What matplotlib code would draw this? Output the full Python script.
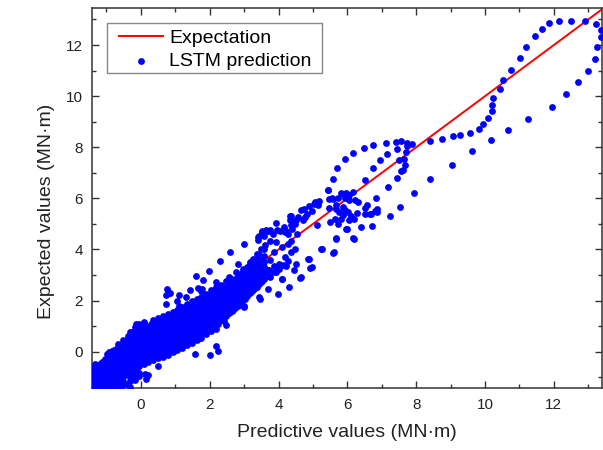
import numpy as np
import matplotlib.pyplot as plt
from matplotlib.patches import Rectangle

plt.rcParams['font.family'] = ['Liberation Sans', 'DejaVu Sans']

# y = x reference line
expect_line = [-1.5, 13.5]

# sparse points, upper range (arcs and loops)
pred_high = [13.24, 13.38, 13.38, 13.26, 13.19, 12.98, 12.70, 12.35, 11.94, 11.24, 10.66,
             12.91, 12.49, 12.15, 11.85, 11.66, 11.46, 11.19, 11.02, 10.77, 10.52, 10.44,
             10.24, 10.21, 10.19, 10.08, 9.94, 9.82, 9.56, 9.26, 9.07, 8.76, 8.39,
             10.17, 9.63, 9.05, 8.41, 7.93]
exp_high = [12.82, 12.60, 12.33, 11.93, 11.44, 10.99, 10.55, 10.07, 9.58, 9.11, 8.69,
            12.94, 12.95, 12.94, 12.85, 12.64, 12.35, 11.93, 11.48, 11.02, 10.63, 10.29,
            9.93, 9.67, 9.40, 9.13, 8.93, 8.72, 8.56, 8.48, 8.43, 8.34, 8.26,
            8.29, 7.87, 7.32, 6.75, 6.20]

# loop around 6..8
pred_loop = [7.89, 7.73, 7.73, 7.57, 7.40, 7.11, 6.76, 6.47, 6.15, 5.93, 5.71, 5.57, 5.45,
             7.45, 7.71, 7.64, 7.68, 7.56, 7.45, 7.15, 6.96, 6.76, 6.51, 7.18, 6.82,
             7.23, 6.71, 6.17, 5.68, 7.52, 6.69, 6.85, 7.63, 7.49]
exp_loop = [8.12, 8.17, 8.04, 8.25, 8.22, 8.17, 8.07, 7.97, 7.78, 7.53, 7.19, 6.76, 6.31,
            7.92, 7.80, 7.56, 7.31, 7.09, 6.78, 7.74, 7.49, 7.18, 6.73, 6.43, 6.01,
            5.33, 4.90, 4.46, 4.44, 5.66, 5.40, 5.46, 7.10, 7.49]

# cluster near 6
pred_mid = [5.46, 5.59, 5.72, 5.81, 5.88, 5.95, 6.04, 6.16, 6.22, 5.93, 6.05, 5.68, 5.68,
            5.75, 5.87, 5.92, 6.02, 5.87, 6.11, 6.19, 6.04, 5.83, 5.65, 6.28, 6.30, 6.57,
            6.50, 6.52, 6.67, 6.81, 6.86, 5.46, 5.51, 5.98, 5.74, 5.13, 5.55, 6.40, 5.60,
            5.17, 5.06, 4.90, 4.73, 4.65, 4.97, 4.83, 4.76, 4.56, 4.37, 4.32, 4.52, 4.71,
            4.37, 4.15, 3.94, 3.97, 4.18, 4.38, 4.55, 3.76, 3.65, 3.53, 3.40, 5.14, 5.04,
            5.43, 5.06]
exp_mid = [5.96, 5.99, 6.01, 6.21, 6.17, 6.21, 6.13, 6.26, 5.92, 6.01, 5.92, 5.73, 5.60,
           5.46, 5.66, 5.56, 5.46, 5.36, 5.33, 5.19, 5.14, 5.18, 5.18, 5.42, 5.87, 5.75,
           5.63, 5.40, 5.40, 5.52, 5.60, 5.63, 5.07, 4.81, 5.01, 4.94, 6.00, 4.87, 3.89,
           5.88, 5.82, 5.71, 5.60, 5.53, 5.50, 5.37, 5.27, 5.27, 5.32, 5.16, 5.14, 5.14,
           4.97, 4.87, 5.05, 4.75, 4.68, 4.81, 4.62, 4.75, 4.77, 4.67, 4.48, 5.73, 5.79,
           6.31, 5.86]

# ring around 4 and scattered outliers
pred_ring = [4.33, 4.38, 4.48, 3.66, 3.53, 3.42, 3.39, 3.57, 3.72, 3.84, 4.03, 4.21, 4.29,
             4.37, 4.27, 4.11, 3.94, 3.74, 3.62, 3.50, 3.37, 3.26, 3.16, 2.99, 2.60, 2.31,
             1.98, 1.61, 1.42, 1.12, 0.86, 1.78, 2.17, 2.56, 2.77, 2.97, 3.13, 2.82, 3.74,
             3.86, 4.18, 4.37, 4.47, 4.50, 4.23, 4.10, 3.70, 3.50, 3.31, 3.08, 2.97, 3.00,
             3.43, 3.74, 3.94, 3.69, 3.35, 3.14, 4.30, 4.63, 4.44, 4.91, 4.89, 5.24, 5.58,
             5.68, 6.18, 5.97, 4.64, 4.87, 4.97, 5.25]
exp_ring = [5.32, 5.09, 5.01, 4.74, 4.72, 4.51, 4.38, 4.51, 4.72, 4.62, 4.72, 4.74, 4.62,
            4.35, 4.22, 4.09, 4.29, 4.35, 4.16, 4.03, 3.83, 3.64, 3.50, 4.22, 3.89, 3.54,
            3.15, 2.98, 2.42, 2.20, 2.30, 2.46, 2.72, 2.91, 3.11, 3.24, 3.31, 3.44, 3.57,
            3.89, 3.70, 3.89, 4.03, 3.44, 3.37, 2.84, 2.47, 2.72, 2.52, 2.46, 2.20, 1.74,
            2.13, 2.91, 3.11, 3.18, 3.18, 2.78, 2.52, 2.89, 3.20, 3.28, 3.62, 4.01, 3.87,
            4.42, 4.42, 4.81, 2.91, 3.64, 3.31, 4.03]

pred_out = [1.56, 2.00, 2.25, 2.17, 0.76, 0.82, 0.72, 0.72, 1.05, 1.12, 1.32, 1.66, 1.81,
            1.61, 1.51, 1.32, 1.90, 2.43, 2.48, 2.56, 2.66, 3.01, 3.06, 3.47, 3.06, 3.43,
            3.99, 4.11, -0.14, 0.08, -0.25, -0.62, -0.33, -0.18, -0.04, 0.11, 0.16]
exp_out = [-0.09, -0.12, 0.04, 0.24, 2.46, 2.29, 2.20, 1.87, 2.00, 1.80, 2.13, 2.48, 2.82,
           0.59, 0.72, 0.56, 1.08, 1.22, 1.05, 1.53, 1.61, 1.80, 2.33, 2.07, 3.20, 3.11,
           2.26, 2.84, 1.09, 1.15, 0.76, -1.33, -1.14, -1.00, -0.94, -0.88, -1.07]

# dense band, listed column by column
band_x = [-1.38, -1.25, -1.12, -0.98, -0.85, -0.72, -0.58, -0.45, -0.32, -0.18, -0.05,
          0.08, 0.22, 0.36, 0.50, 0.64, 0.78, 0.92, 1.06, 1.20, 1.34, 1.48, 1.62, 1.76,
          1.90, 2.04, 2.18, 2.32, 2.46, 2.60, 2.74, 2.88, 3.02, 3.16, 3.30, 3.44, 3.58,
          3.72, 3.86, 4.00, 4.14, 4.28]
band_y = [
    [-1.40, -1.22, -1.03, -0.85, -0.62],
    [-1.38, -1.18, -0.98, -0.78, -0.55],
    [-1.40, -1.20, -1.00, -0.80, -0.60, -0.40],
    [-1.36, -1.15, -0.95, -0.74, -0.52, -0.30, -0.10],
    [-1.40, -1.20, -0.99, -0.78, -0.58, -0.36, -0.15, 0.02],
    [-1.32, -1.10, -0.90, -0.70, -0.48, -0.28, -0.05, 0.12],
    [-1.40, -1.05, -0.85, -0.62, -0.42, -0.20, 0.00, 0.22],
    [-1.25, -0.92, -0.70, -0.50, -0.30, -0.08, 0.14, 0.35],
    [-1.40, -1.00, -0.78, -0.56, -0.36, -0.15, 0.05, 0.27, 0.50, 0.78],
    [-1.10, -0.70, -0.48, -0.26, -0.05, 0.18, 0.40, 0.62, 0.95],
    [-0.85, -0.55, -0.34, -0.12, 0.10, 0.32, 0.55, 0.75, 1.08],
    [-0.48, -0.25, -0.02, 0.20, 0.42, 0.64, 0.85, 1.12],
    [-0.90, -0.40, -0.15, 0.08, 0.30, 0.52, 0.74, 0.96],
    [-0.32, -0.08, 0.15, 0.38, 0.60, 0.82, 1.05, 1.25],
    [-0.55, -0.25, 0.00, 0.25, 0.48, 0.70, 0.92, 1.15, 1.32],
    [-0.20, 0.05, 0.28, 0.50, 0.72, 0.95, 1.18, 1.40],
    [-0.12, 0.12, 0.36, 0.58, 0.80, 1.02, 1.25, 1.48],
    [0.00, 0.22, 0.45, 0.68, 0.90, 1.12, 1.35, 1.55],
    [0.05, 0.30, 0.52, 0.75, 0.98, 1.20, 1.42, 1.62],
    [0.15, 0.40, 0.62, 0.85, 1.08, 1.30, 1.52, 1.75],
    [0.28, 0.50, 0.72, 0.95, 1.18, 1.40, 1.62, 1.88],
    [0.35, 0.60, 0.82, 1.05, 1.28, 1.50, 1.72, 1.98],
    [0.45, 0.70, 0.92, 1.15, 1.38, 1.60, 1.82, 2.05],
    [0.55, 0.80, 1.02, 1.25, 1.48, 1.70, 1.92, 2.15, 2.38],
    [0.70, 0.92, 1.15, 1.38, 1.60, 1.82, 2.05, 2.25],
    [0.82, 1.05, 1.28, 1.50, 1.72, 1.95, 2.18, 2.40],
    [0.88, 1.15, 1.40, 1.62, 1.85, 2.08, 2.30, 2.55],
    [1.25, 1.50, 1.72, 1.95, 2.18, 2.40, 2.62],
    [1.40, 1.62, 1.85, 2.08, 2.30, 2.52, 2.75],
    [1.55, 1.78, 2.00, 2.22, 2.45, 2.68, 2.90],
    [1.72, 1.95, 2.18, 2.40, 2.62, 2.85],
    [1.85, 2.10, 2.32, 2.55, 2.78, 3.00],
    [2.05, 2.28, 2.50, 2.72, 2.95, 3.18],
    [2.30, 2.52, 2.75, 2.98, 3.20, 3.42],
    [2.45, 2.70, 2.92, 3.15, 3.38, 3.60],
    [2.65, 2.88, 3.10, 3.32, 3.55, 3.78],
    [2.85, 3.08, 3.30, 3.52, 3.75, 4.00],
    [2.95, 3.20],
    [3.10, 3.35],
    [3.25, 3.45],
    [3.40],
    [3.55],
]

# second set of band columns, in between the first ones
band2_x = [-1.32, -1.18, -1.05, -0.92, -0.78, -0.65, -0.52, -0.38, -0.25, -0.12, 0.02,
           0.15, 0.29, 0.43, 0.57, 0.71, 0.85, 0.99, 1.13, 1.27, 1.41, 1.55, 1.69, 1.83,
           1.97, 2.11, 2.25, 2.39, 2.53, 2.67, 2.81, 2.95, 3.09, 3.23, 3.37, 3.51]
band2_y = [
    [-1.30, -1.12, -0.93, -0.72, -0.50],
    [-1.28, -1.08, -0.88, -0.68, -0.48],
    [-1.30, -1.10, -0.90, -0.70, -0.50, -0.28],
    [-1.26, -1.05, -0.85, -0.63, -0.42, -0.20, 0.00],
    [-1.22, -1.00, -0.80, -0.60, -0.38, -0.18, 0.05],
    [-1.20, -0.96, -0.76, -0.55, -0.34, -0.12, 0.10, 0.30],
    [-1.15, -0.80, -0.60, -0.40, -0.18, 0.04, 0.26, 0.45],
    [-0.88, -0.66, -0.45, -0.25, -0.02, 0.20, 0.42, 0.62],
    [-0.85, -0.60, -0.38, -0.16, 0.06, 0.28, 0.50, 0.72],
    [-0.62, -0.40, -0.18, 0.04, 0.26, 0.48, 0.70, 0.88],
    [-0.45, -0.22, 0.00, 0.22, 0.44, 0.66, 0.88, 1.00],
    [-0.36, -0.12, 0.10, 0.32, 0.54, 0.76, 0.98],
    [-0.25, -0.02, 0.20, 0.42, 0.64, 0.86, 1.10],
    [-0.18, 0.05, 0.28, 0.50, 0.72, 0.95, 1.18],
    [-0.10, 0.14, 0.36, 0.58, 0.80, 1.02, 1.25],
    [-0.05, 0.22, 0.45, 0.68, 0.90, 1.12, 1.35],
    [0.05, 0.30, 0.52, 0.75, 0.98, 1.20, 1.42],
    [0.12, 0.38, 0.60, 0.82, 1.05, 1.28, 1.50],
    [0.22, 0.46, 0.70, 0.92, 1.15, 1.38, 1.60],
    [0.30, 0.55, 0.78, 1.00, 1.22, 1.45, 1.68],
    [0.42, 0.66, 0.88, 1.10, 1.32, 1.55, 1.78],
    [0.50, 0.75, 0.98, 1.20, 1.42, 1.65, 1.88],
    [0.62, 0.86, 1.08, 1.30, 1.52, 1.75, 1.98],
    [0.75, 0.98, 1.20, 1.42, 1.65, 1.88, 2.10],
    [0.85, 1.08, 1.32, 1.55, 1.78, 2.00, 2.22],
    [0.98, 1.20, 1.42, 1.65, 1.88, 2.10, 2.32],
    [1.10, 1.32, 1.55, 1.78, 2.00, 2.22, 2.45],
    [1.38, 1.60, 1.82, 2.05, 2.28, 2.50],
    [1.50, 1.72, 1.95, 2.18, 2.40, 2.62],
    [1.65, 1.88, 2.10, 2.32, 2.55, 2.78],
    [1.80, 2.02, 2.25, 2.48, 2.70, 2.92],
    [1.98, 2.20, 2.42, 2.65, 2.88, 3.08],
    [2.18, 2.40, 2.62, 2.85, 3.08, 3.30],
    [2.38, 2.60, 2.82, 3.05, 3.28, 3.50],
    [2.55, 2.78, 3.00, 3.22, 3.45, 3.68],
    [2.75, 2.98, 3.20, 3.42, 3.65],
]

pred_band, exp_band = [], []
for bx, ys in list(zip(band_x, band_y)) + list(zip(band2_x, band2_y)):
    pred_band += [bx] * len(ys)
    exp_band += ys

pred = np.array(pred_band + pred_out + pred_ring + pred_mid + pred_loop + pred_high)
expd = np.array(exp_band + exp_out + exp_ring + exp_mid + exp_loop + exp_high)

fig = plt.figure(figsize=(6.03, 4.5), dpi=100)
ax = fig.add_axes([92 / 603, 62 / 450, 510 / 603, 380 / 450])

ax.plot(expect_line, expect_line, color='red', lw=1.4, label='Expectation', zorder=2)
ax.scatter(pred, expd, s=24, color='#0000ff', linewidths=0, label='LSTM prediction', zorder=3)

ax.set_xlim(-1.42, 13.4)
ax.set_ylim(-1.42, 13.45)
ax.set_xticks(np.arange(0, 13, 2))
ax.set_yticks(np.arange(0, 13, 2))
ax.set_xticks(np.arange(-1, 14, 2), minor=True)
ax.set_yticks(np.arange(-1, 14, 2), minor=True)
ax.tick_params(which='both', direction='in', top=True, right=True, labelsize=11,
               colors='#333333', labelcolor='#222222')
ax.tick_params(which='major', length=5, width=1)
ax.tick_params(which='minor', length=3, width=1)
ax.tick_params(axis='x', which='major', pad=7)
ax.tick_params(axis='y', which='major', pad=6.5)
for sp in ax.spines.values():
    sp.set_color('#333333')
    sp.set_linewidth(1.1)

ax.set_xlabel('Predictive values (MN·m)', fontsize=14, color='#222222', labelpad=9)
ax.set_ylabel('Expected values (MN·m)', fontsize=14, color='#222222')
ax.yaxis.set_label_coords(-0.073, 0.466)

# legend text without frame, the box drawn separately
leg = ax.legend(loc='upper left', bbox_to_anchor=(0.053, 0.945), borderaxespad=0,
                fontsize=14, frameon=False, scatterpoints=1, handlelength=2.27,
                handletextpad=0.3, labelspacing=0.32, borderpad=0)
ax.add_patch(Rectangle((0.0294, 0.829), 0.4216, 0.1315, transform=ax.transAxes,
                       facecolor='white', edgecolor='#888888', lw=1.0, zorder=4))
leg.set_zorder(5)

fig.savefig('out.png', dpi=100)
